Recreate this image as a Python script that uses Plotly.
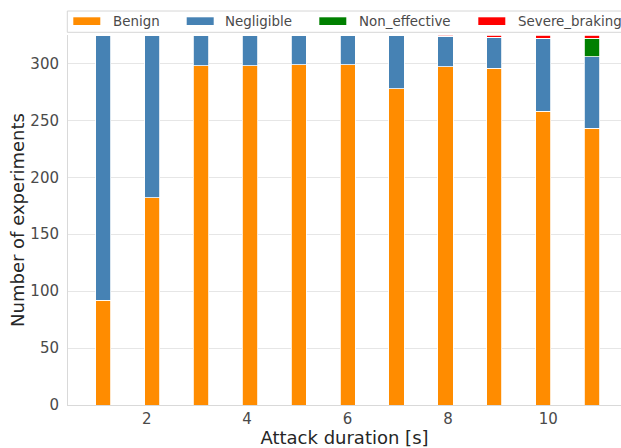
import plotly.graph_objects as go

durations = [1, 2, 3, 4, 5, 6, 7, 8, 9, 10, 11]
benign = [92, 182, 298, 298, 299, 299, 278, 297, 296, 258, 243]
negligible = [233, 143, 27, 27, 26, 26, 47, 27, 27, 64, 63]
non_effective = [0, 0, 0, 0, 0, 0, 0, 0, 0, 0, 16]
severe_braking = [0, 0, 0, 0, 0, 0, 0, 1, 2, 3, 3]
series_names = ["Benign", "Negligible", "Non_effective", "Severe_braking"]
series_colors = ["#FF8C00", "#4682B4", "#008000", "#FF0000"]
x_tick_vals = [2, 4, 6, 8, 10]
y_tick_vals = [0, 50, 100, 150, 200, 250, 300]

W, H = 621, 448
ML, MR, MT, MB = 68, 0, 35, 43
PW, PH = W - ML - MR, H - MT - MB
FONT = "DejaVu Sans"


def px(xp):
    return (xp - ML) / PW


def py(yp):
    return (H - MB - yp) / PH


fig = go.Figure()
for name, vals, col in zip(series_names, [benign, negligible, non_effective, severe_braking], series_colors):
    fig.add_trace(go.Bar(
        x=durations, y=vals, name=name, width=0.313,
        marker=dict(color=col, line=dict(color="white", width=0.8)),
        showlegend=False,
    ))
fig.add_trace(go.Scatter(x=[], y=[], xaxis="x2", showlegend=False, hoverinfo="skip"))

shapes = []
annotations = []
# legend frame
shapes.append(dict(type="rect", xref="paper", yref="paper",
                   x0=px(67.3), x1=px(640), y0=py(32.3), y1=py(11),
                   line=dict(color="#d6d6d6", width=1), fillcolor="rgba(255,255,255,0.85)",
                   layer="above"))
patch_x = [73.3, 186.7, 319.3, 478.3]
text_x = [111.7, 224.3, 358.3, 516.7]
for name, col, pxx, txx in zip(series_names, series_colors, patch_x, text_x):
    shapes.append(dict(type="rect", xref="paper", yref="paper",
                       x0=px(pxx), x1=px(pxx + 27), y0=py(25), y1=py(17.3),
                       line=dict(width=0), fillcolor=col, layer="above"))
    annotations.append(dict(text=name, xref="paper", yref="paper", x=px(txx - 1), y=py(21.3),
                            xanchor="left", yanchor="middle", showarrow=False,
                            font=dict(family=FONT, size=13.4, color="#4a4a4a")))

fig.update_layout(
    width=W, height=H,
    margin=dict(l=ML, r=MR, t=MT, b=MB, autoexpand=False),
    barmode="stack",
    plot_bgcolor="white", paper_bgcolor="white",
    font=dict(family=FONT, color="#444444"),
    shapes=shapes, annotations=annotations,
    xaxis=dict(range=[0.278, 11.593], showticklabels=False, ticks="", showgrid=False,
               zeroline=False, showline=True, linecolor="#d9d9d9", linewidth=1),
    xaxis2=dict(range=[0.432, 11.448], overlaying="x", anchor="y", side="bottom",
                tickvals=x_tick_vals, ticks="", showgrid=False, zeroline=False,
                showline=False, tickfont=dict(family=FONT, size=15, color="#4a4a4a"),
                ticklabelstandoff=3,
                title=dict(text="Attack duration [s]", standoff=3,
                           font=dict(family=FONT, size=18, color="#262626"))),
    yaxis=dict(range=[0, 325], tickvals=y_tick_vals, ticks="", showgrid=True,
               gridcolor="#e6e6e6", gridwidth=1, zeroline=False,
               showline=True, linecolor="#d9d9d9", linewidth=1,
               tickfont=dict(family=FONT, size=15, color="#4a4a4a"),
               ticklabelstandoff=5,
               title=dict(text="Number of experiments", standoff=1,
                          font=dict(family=FONT, size=18, color="#262626"))),
)

fig.write_html("out.html", config={"displayModeBar": False},
               post_script="document.body.style.margin='0';")
